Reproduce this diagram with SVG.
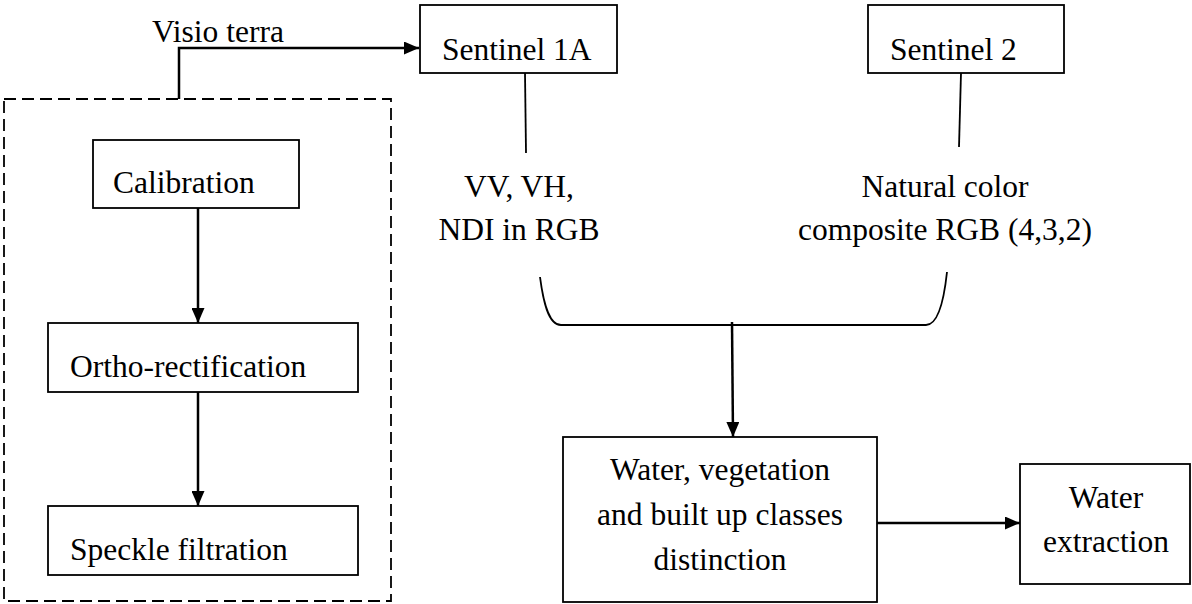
<svg xmlns="http://www.w3.org/2000/svg" width="1192" height="604" viewBox="0 0 1192 604">
<defs>
<marker id="ah" markerWidth="15" markerHeight="13" refX="15" refY="6.5" orient="auto" markerUnits="userSpaceOnUse"><path d="M0,0 L15,6.5 L0,13 Z" fill="#000"/></marker>
<style>
.box{fill:#fff;stroke:#000;stroke-width:1.8}
.t{font-family:"Liberation Serif","Times New Roman",serif;font-size:31.5px;fill:#000}
.c{text-anchor:middle}
.conn{fill:none;stroke:#000;stroke-width:2.5}
.line{fill:none;stroke:#000;stroke-width:1.8}
.dash{fill:none;stroke:#000;stroke-width:1.8;stroke-dasharray:12 6}
</style>
</defs>
<rect width="1192" height="604" fill="#fff"/>
<g id="group-preprocessing">
<rect class="dash" x="4" y="99" width="387" height="502"/>
</g>
<g id="calibration">
<rect class="box" x="93" y="140" width="206" height="68"/>
<text class="t" x="113" y="193">Calibration</text>
</g>
<g id="ortho">
<rect class="box" x="48" y="323" width="310" height="69"/>
<text class="t" x="70" y="377">Ortho-rectification</text>
</g>
<g id="speckle">
<rect class="box" x="48" y="506" width="310" height="69"/>
<text class="t" x="70" y="560">Speckle filtration</text>
</g>
<g id="sentinel1a">
<rect class="box" x="420" y="5" width="197" height="68"/>
<text class="t" x="442" y="60">Sentinel 1A</text>
</g>
<g id="sentinel2">
<rect class="box" x="868" y="5" width="196" height="68"/>
<text class="t" x="890" y="60">Sentinel 2</text>
</g>
<g id="s1-label">
<text class="t c" x="519" y="197">VV, VH,</text>
<text class="t c" x="519" y="240">NDI in RGB</text>
</g>
<g id="s2-label">
<text class="t c" x="945" y="197">Natural color</text>
<text class="t c" x="945" y="240">composite RGB (4,3,2)</text>
</g>
<g id="classes">
<rect class="box" x="563" y="437" width="314" height="165"/>
<text class="t c" x="720" y="480">Water, vegetation</text>
<text class="t c" x="720" y="525">and built up classes</text>
<text class="t c" x="720" y="570">distinction</text>
</g>
<g id="water-extraction">
<rect class="box" x="1020" y="464" width="170" height="120"/>
<text class="t c" x="1106" y="508">Water</text>
<text class="t c" x="1106" y="552">extraction</text>
</g>
<g id="connectors">
<text class="t" x="152" y="42">Visio terra</text>
<path class="conn" d="M179,99 V48 H419" marker-end="url(#ah)"/>
<path class="conn" d="M198,208 V323" marker-end="url(#ah)"/>
<path class="conn" d="M198,392 V506" marker-end="url(#ah)"/>
<path class="line" d="M525,73 L526,153"/>
<path class="line" d="M961,73 L959,147"/>
<path class="line" d="M540,277 C543,300 548,325 561,325 L926,325 C938,325 944,300 947,272"/>
<path class="conn" d="M732,322 L733,437" marker-end="url(#ah)"/>
<path class="conn" d="M877,523 H1020" marker-end="url(#ah)"/>
</g>
</svg>
